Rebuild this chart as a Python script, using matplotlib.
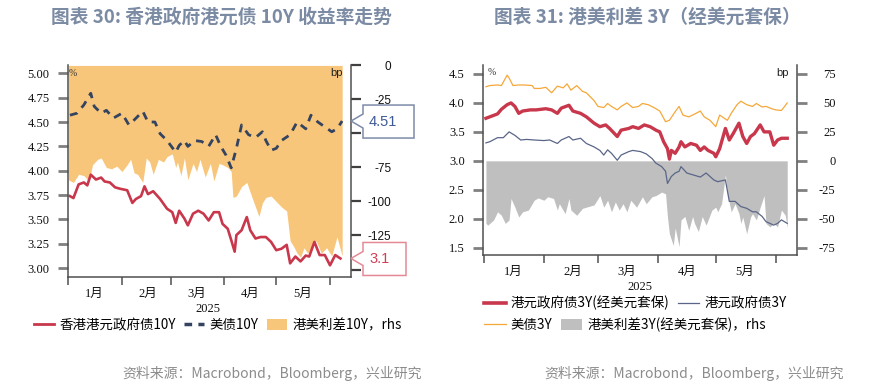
import numpy as np
import pandas as pd
import matplotlib
matplotlib.use('Agg')
import matplotlib.pyplot as plt
import matplotlib.dates as mdates
import matplotlib.transforms as mtransforms
from matplotlib.patches import Polygon, Patch
from matplotlib.lines import Line2D

CJK = 'Noto Sans CJK SC'
plt.rcParams['font.family'] = [CJK, 'DejaVu Sans']
SERIF = ['Liberation Serif', CJK]
SANS = ['Liberation Sans', CJK]

BASE = '2025-01-01'

# ---------------- data: left panel (days since 2025-01-01) ----------------
hk10_days = [1,3,6,9,11,13,16,19,21,24,27,30,34,37,39,42,44,46,49,53,57,60,62,64,67,69,72,75,78,81,
             84,87,89,92,94,96,97,100,103,105,108,111,114,117,120,123,126,128,131,134,137,139,142,145,148,151,154,157]
hk10_vals = [3.74,3.72,3.86,3.88,3.85,3.96,3.91,3.93,3.89,3.88,3.83,3.815,3.80,3.67,3.71,3.74,3.84,3.76,3.79,3.71,
             3.61,3.575,3.465,3.59,3.51,3.44,3.56,3.59,3.56,3.49,3.575,3.575,3.455,3.405,3.29,3.17,3.34,3.39,3.525,3.39,
             3.305,3.32,3.32,3.27,3.185,3.20,3.24,3.05,3.12,3.07,3.13,3.12,3.27,3.135,3.135,3.03,3.135,3.10]

us10_days = [1,5,9,13,15,19,22,26,31,35,38,43,46,50,53,57,62,64,67,69,73,77,81,85,88,91,94,97,100,104,
             108,112,114,117,120,123,128,132,137,140,144,148,152,155,158]
us10_vals = [4.57,4.59,4.675,4.795,4.66,4.59,4.62,4.54,4.59,4.47,4.52,4.61,4.50,4.50,4.38,4.31,4.19,4.26,4.31,4.25,
             4.31,4.30,4.25,4.37,4.25,4.16,4.03,4.23,4.47,4.37,4.34,4.40,4.31,4.21,4.23,4.31,4.37,4.50,4.43,4.57,
             4.50,4.45,4.40,4.43,4.51]

sp10_days = [0,3,6,9,12,14,17,19,22,25,28,31,34,36,38,40,43,45,47,49,52,55,57,60,62,63,65,67,69,72,
             74,76,79,82,84,87,89,92,94,95,97,100,103,106,108,110,112,114,117,120,123,126,128,130,132,134,136,138,141,143,
             146,149,152,155,158]
sp10_vals = [-84,-86,-80,-81,-85,-73,-69,-68,-75,-76,-74,-78,-73,-69,-79,-80,-86,-68,-71,-80,
             -69,-71,-67,-65,-75,-71,-81,-68,-84,-72,-78,-69,-82,-72,-85,-72,-73,-75,-78,-97,
             -96,-89,-86,-97,-104,-111,-101,-97,-96,-100,-104,-107,-129,-133,-138,-141,-134,-138,-133,-129,
             -138,-134,-140,-126,-140]

# ---------------- data: right panel ----------------
us3_days = [1,3,7,9,12,13,15,18,21,25,26,29,32,35,38,41,43,45,48,51,53,57,59,62,64,66,69,71,74,77,
            80,82,85,88,91,94,96,99,101,103,106,108,112,114,117,120,122,126,128,131,133,136,139,141,144,146,149,151,154,157]
us3_vals = [4.28,4.30,4.31,4.30,4.48,4.43,4.30,4.31,4.31,4.30,4.25,4.25,4.27,4.175,4.29,4.26,4.33,4.22,4.30,4.20,
            4.175,4.04,3.94,3.92,3.99,3.94,3.88,3.94,4.00,3.92,3.94,3.99,3.97,3.92,3.86,3.676,3.70,3.85,3.94,3.79,
            3.76,3.79,3.86,3.76,3.70,3.59,3.79,3.70,3.82,3.97,4.03,3.97,3.94,3.99,3.93,3.94,3.90,3.88,3.87,4.00]

hk3h_days = [1,3,7,9,12,14,16,18,20,24,27,32,35,38,40,44,46,50,53,57,60,63,65,69,71,75,77,80,83,86,
             89,91,93,95,96,97,99,101,102,104,107,110,112,114,116,119,120,122,125,127,129,132,134,136,138,140,143,145,148,150,
             152,154,157]
hk3h_vals = [3.735,3.76,3.81,3.89,3.97,4.00,3.94,3.82,3.86,3.88,3.88,3.90,3.88,3.82,3.91,3.96,3.86,3.82,3.76,3.65,
             3.59,3.62,3.56,3.42,3.53,3.56,3.59,3.56,3.62,3.59,3.53,3.50,3.33,3.21,3.03,3.18,3.13,3.24,3.33,3.24,
             3.30,3.27,3.18,3.24,3.18,3.13,3.07,3.21,3.56,3.36,3.47,3.65,3.42,3.30,3.42,3.47,3.62,3.50,3.50,3.27,
             3.36,3.39,3.39]

hk3_days = [1,3,7,10,13,16,19,22,26,31,34,38,40,44,46,50,53,57,60,62,64,66,69,71,75,77,81,84,87,89,
            92,94,95,97,99,101,102,105,108,112,115,119,121,125,127,130,133,136,139,141,144,146,150,152,154,157]
hk3_vals = [3.31,3.33,3.40,3.40,3.50,3.44,3.36,3.37,3.36,3.35,3.36,3.30,3.36,3.42,3.36,3.39,3.30,3.24,3.18,3.10,
            3.19,3.13,3.01,3.10,3.16,3.18,3.16,3.12,3.04,2.96,2.90,2.82,2.61,2.73,2.79,2.82,2.90,2.79,2.76,2.72,
            2.79,2.67,2.64,2.67,2.30,2.30,2.21,2.18,2.12,2.12,2.04,1.95,1.89,1.92,1.98,1.92]

sp3_days = [1,2,5,7,9,11,13,14,16,18,20,23,26,28,31,33,36,38,39,42,44,45,48,51,53,57,60,62,64,66,
            68,70,72,74,76,79,82,84,87,89,92,94,95,96,98,99,101,102,104,106,108,109,111,113,115,118,120,121,123,125,
            126,128,130,132,133,134,136,138,139,141,143,145,146,148,150,152,154,156,157]
sp3_vals = [-54,-55.5,-51,-44,-47,-54,-51,-32.5,-40,-48.5,-44,-42.5,-34,-32,-34,-31,-32.5,-42.5,-37,-45.6,
            -32.5,-42.5,-47,-41,-40,-38,-30,-40,-34,-44,-35.5,-42.5,-37,-44,-34,-40,-31,-37,-31,-30,
            -27,-28.5,-48.5,-63,-73,-58,-74,-51,-48,-60,-48,-54,-61,-48,-55.5,-42.5,-40,-44,-37,-12,
            -28.5,-44,-37,-45.6,-54,-48.5,-63,-48.5,-45.6,-51,-40,-30,-54,-57,-54,-57,-42.5,-47,-58]

months = [1, 2, 3, 4, 5]
month_labels = [f'{m}月' for m in months]
year_label = '2025'

titles = ['图表 30: 香港政府港元债 10Y 收益率走势', '图表 31: 港美利差 3Y（经美元套保）']
source = '资料来源：Macrobond，Bloomberg，兴业研究'
left_legend = ['香港港元政府债10Y', '美债10Y', '港美利差10Y，rhs']
right_legend = ['港元政府债3Y(经美元套保)', '港元政府债3Y', '美债3Y', '港美利差3Y(经美元套保)，rhs']


def to_dates(days):
    return pd.Timestamp(BASE) + pd.to_timedelta(np.asarray(days, dtype=float), unit='D')


W, H = 879, 386
fig = plt.figure(figsize=(W / 100, H / 100), dpi=100)

C_RED = '#C8374B'
C_NAVY = '#34435F'
C_ORANGE_FILL = '#F8C67A'
C_ORANGE_LINE = '#F5A83A'
C_SLATE = '#5A6688'
C_GRAY = '#BFBFBF'
TICKC = '#808080'
SPINEC = '#505050'


def style_axes(ax, axr, month_mids, fs):
    ax.spines['top'].set_visible(False)
    axr.spines['top'].set_visible(False)
    ax.spines['right'].set_visible(False)
    axr.spines['left'].set_visible(False)
    axr.spines['bottom'].set_visible(False)
    for s in ['left', 'bottom']:
        ax.spines[s].set_color(SPINEC)
        ax.spines[s].set_linewidth(1.1)
    axr.spines['right'].set_color(SPINEC)
    axr.spines['right'].set_linewidth(1.1)
    ax.xaxis.set_major_locator(mdates.MonthLocator())
    ax.xaxis.set_major_formatter(plt.NullFormatter())
    ax.set_xticks(month_mids, labels=month_labels, minor=True, fontfamily=SERIF, fontsize=fs)
    ax.tick_params(axis='x', which='major', direction='out', length=6, width=1.1, color=SPINEC)
    ax.tick_params(axis='x', which='minor', length=0, pad=8, labelcolor='#111111')


# ====================== LEFT PANEL ======================
ax1 = fig.add_axes([67.7 / W, 1 - 277 / H, (351 - 67.7) / W, 212 / H])
ax1r = ax1.twinx()
ax1.set_zorder(ax1r.get_zorder() + 1)
ax1.patch.set_visible(False)

ax1r.fill_between(to_dates(sp10_days), 0, sp10_vals, color=C_ORANGE_FILL, lw=0)
ax1.plot(to_dates(hk10_days), hk10_vals, color=C_RED, lw=1.9, solid_joinstyle='round')
ax1.plot(to_dates(us10_days), us10_vals, color=C_NAVY, lw=2.0, dashes=(2.8, 2.4))

ax1.set_xlim(to_dates([-0.3])[0], to_dates([163.1])[0])
ax1.set_ylim(2.91, 5.085)
ax1r.set_ylim(-155.5, 0.3)

mids = [pd.Timestamp(2025, m, 16) for m in months]
style_axes(ax1, ax1r, mids, 9)

lt = np.arange(3.0, 5.001, 0.25)
ax1.set_yticks(lt, labels=[f'{v:.2f}' for v in lt], fontfamily=SERIF, fontsize=9)
ax1.tick_params(axis='y', direction='out', length=7, width=2, color=TICKC, pad=6, labelcolor='#111111')
rt = np.arange(-150, 1, 25)
ax1r.set_yticks(rt, labels=[f'{v:d}' for v in rt], fontfamily=SANS, fontsize=8.5, ha='right')
ax1r.tick_params(axis='y', direction='out', length=7, width=1.6, color='#404040', pad=22, labelcolor='#111111')

ax1.text(0.019, 0.962, '%', transform=ax1.transAxes, fontsize=7, ha='center', va='center',
         fontfamily=SERIF, color='#333333')
ax1.text(0.95, 0.962, 'bp', transform=ax1.transAxes, fontsize=8, ha='center', va='center',
         fontfamily=SANS, color='#222222')
fig.text(208 / W, 1 - 309 / H, year_label, ha='center', va='center', fontsize=9, fontfamily=SERIF, color='#111111')

# ====================== RIGHT PANEL ======================
ax2 = fig.add_axes([482.7 / W, 1 - 255 / H, (796.7 - 482.7) / W, 190 / H])
ax2r = ax2.twinx()
ax2.set_zorder(ax2r.get_zorder() + 1)
ax2.patch.set_visible(False)

ax2r.fill_between(to_dates(sp3_days), 0, sp3_vals, color=C_GRAY, lw=0)
ax2.plot(to_dates(us3_days), us3_vals, color=C_ORANGE_LINE, lw=0.9)
ax2.plot(to_dates(hk3_days), hk3_vals, color=C_SLATE, lw=0.9)
ax2.plot(to_dates(hk3h_days), hk3h_vals, color=C_RED, lw=2.4, solid_joinstyle='round')

ax2.set_xlim(to_dates([-0.67])[0], to_dates([161.9])[0])
ax2.set_ylim(1.374, 4.655)
ax2r.set_ylim((1.374 - 3) * 50, (4.655 - 3) * 50)
style_axes(ax2, ax2r, mids, 9)

lt2 = np.arange(1.5, 4.501, 0.5)
ax2.set_yticks(lt2, labels=[f'{v:.1f}' for v in lt2], fontfamily=SERIF, fontsize=9)
ax2.tick_params(axis='y', direction='out', length=7, width=2, color=TICKC, pad=6, labelcolor='#111111')
rt2 = np.arange(-75, 76, 25)
ax2r.set_yticks(rt2, labels=[f'{v:d}' for v in rt2], fontfamily=SERIF, fontsize=9, ha='right')
ax2r.tick_params(axis='y', direction='out', length=7, width=2, color=TICKC, pad=21, labelcolor='#111111')

ax2.text(0.03, 0.958, '%', transform=ax2.transAxes, fontsize=7, ha='center', va='center',
         fontfamily=SERIF, color='#333333')
ax2.text(0.956, 0.958, 'bp', transform=ax2.transAxes, fontsize=8, ha='center', va='center',
         fontfamily=SANS, color='#222222')
fig.text(640 / W, 1 - 287 / H, year_label, ha='center', va='center', fontsize=9, fontfamily=SERIF, color='#111111')

# ====================== callouts ======================
def callout(ax, val, txt, w, top, bot, ec, tc, tx):
    trans = fig.dpi_scale_trans + mtransforms.ScaledTranslation(1, val, ax.get_yaxis_transform())
    pts = np.array([(0, 0), (12, 7), (12, top), (w, top), (w, bot), (12, bot), (12, -7)]) / 100.0
    poly = Polygon(pts, closed=True, facecolor='white', edgecolor=ec, lw=1.1, transform=trans, zorder=10)
    fig.add_artist(poly)
    fig.text(tx / 100.0, -0.005, txt, transform=trans, ha='center', va='center', fontsize=10.5,
             fontfamily=SANS, color=tc, zorder=11)

callout(ax1, us10_vals[-1], f'{us10_vals[-1]:.2f}', 63, 16, -17, '#7D8BA8', '#3E5A96', 32)
callout(ax1, hk10_vals[-1], f'{hk10_vals[-1]:.1f}', 55, 16, -17, '#E48A96', '#D23F55', 29)

# ====================== titles / legends / source ======================
TITLEC = '#7C8BA4'
fig.text(221 / W, 1 - 17 / H, titles[0], ha='center', va='center', fontsize=13.5, fontweight='bold', color=TITLEC)
fig.text(647 / W, 1 - 17 / H, titles[1], ha='center', va='center', fontsize=13.5, fontweight='bold', color=TITLEC)

LFS = 9.7
h_left = [Line2D([], [], color=C_RED, lw=2.0),
          Line2D([], [], color=C_NAVY, lw=2.5, dashes=(2.2, 1.8)),
          Patch(facecolor=C_ORANGE_FILL, edgecolor='none')]
fig.legend(h_left, left_legend, loc='center', bbox_to_anchor=(218 / W, 1 - 325 / H), ncol=3, frameon=False,
           fontsize=LFS, handlelength=1.5, handleheight=0.9, handletextpad=0.4, columnspacing=0.6,
           borderpad=0, borderaxespad=0)

h_r1 = [Line2D([], [], color=C_RED, lw=2.6), Line2D([], [], color=C_SLATE, lw=0.9)]
h_r2 = [Line2D([], [], color=C_ORANGE_LINE, lw=0.9), Patch(facecolor=C_GRAY, edgecolor='none')]
fig.legend(h_r1, right_legend[:2], loc='center left', bbox_to_anchor=(484 / W, 1 - 303 / H), ncol=2,
           frameon=False, fontsize=LFS, handlelength=1.6, handletextpad=0.4, columnspacing=0.6,
           borderpad=0, borderaxespad=0)
fig.legend(h_r2, right_legend[2:], loc='center left', bbox_to_anchor=(484 / W, 1 - 325 / H), ncol=2,
           frameon=False, fontsize=LFS, handlelength=1.6, handleheight=0.9, handletextpad=0.4, columnspacing=0.6,
           borderpad=0, borderaxespad=0)

fig.text(272 / W, 1 - 373 / H, source, ha='center', va='center', fontsize=10, color='#8C8C8C')
fig.text(694 / W, 1 - 373 / H, source, ha='center', va='center', fontsize=10, color='#8C8C8C')

fig.savefig('out.png', dpi=100)
